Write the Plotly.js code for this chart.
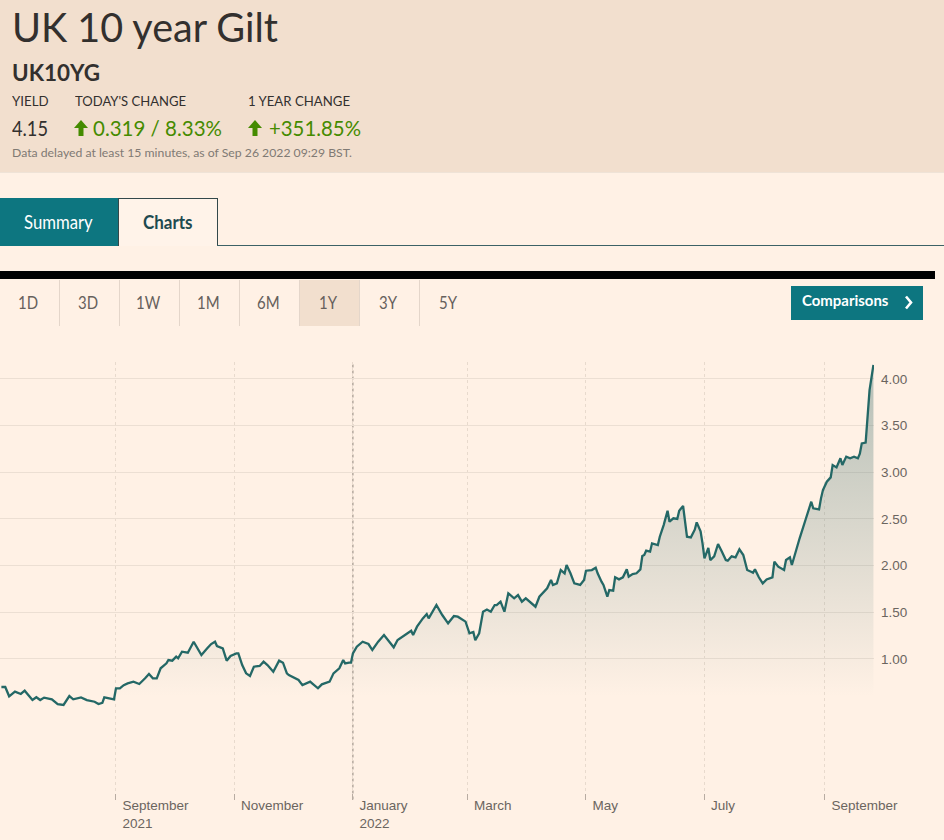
<!DOCTYPE html>
<html><head><meta charset="utf-8">
<script src="https://cdn.plot.ly/plotly-3.0.1.min.js"></script>
<style>
html,body{margin:0;padding:0;background:#fff1e5;width:944px;height:840px;overflow:hidden;font-family:Lato,"Open Sans",sans-serif;color:#33302e;}
.t{position:absolute;white-space:nowrap;line-height:1;transform-origin:0 0;}
#hdr{position:absolute;left:0;top:0;width:944px;height:172px;background:#f2dfce;border-bottom:1px solid #efe3d7;}
#tabSum{position:absolute;left:0;top:198px;width:118px;height:48px;background:#0d7680;}
#tabCh{position:absolute;left:118px;top:198px;width:98px;height:47px;border:1px solid #33484a;border-bottom:none;background:#fff3e9;}
#tabLine{position:absolute;left:217px;top:245px;width:727px;height:1px;background:#3c6266;}
#bar{position:absolute;left:0;top:271px;width:935px;height:8px;background:#000;}
.rb{position:absolute;top:280px;width:59px;height:46px;border-right:1px solid #e4d6ca;}
.rb.sel{background:#f2dfce;}
#cmp{position:absolute;left:791px;top:286px;width:132px;height:34px;background:#0d7680;}
#chart{position:absolute;left:0;top:330px;width:944px;height:510px;}
</style></head><body>
<div id="hdr"></div>
<div id="tabSum"></div><div id="tabCh"></div><div id="tabLine"></div>
<div id="bar"></div>
<div id="rbs"></div>
<div id="cmp"></div>
<svg style="position:absolute;left:74px;top:120px" width="14" height="16" viewBox="0 0 14 16"><polygon points="7,0 14,8 9.5,8 9.5,16 4.5,16 4.5,8 0,8" fill="#458b00"/></svg>
<svg style="position:absolute;left:248px;top:120px" width="14" height="16" viewBox="0 0 14 16"><polygon points="7,0 14,8 9.5,8 9.5,16 4.5,16 4.5,8 0,8" fill="#458b00"/></svg>
<svg style="position:absolute;left:904px;top:295px" width="9" height="15" viewBox="0 0 9 15"><polyline points="2,1.5 7,7.5 2,13.5" fill="none" stroke="#fff" stroke-width="2.6"/></svg>
<div id="chart"></div>
<script>
// ---- data ----
const title = "UK 10 year Gilt";
const symbol = "UK10YG";
const statLabels = ["YIELD", "TODAY'S CHANGE", "1 YEAR CHANGE"];
const statValues = ["4.15", "0.319 / 8.33%", "+351.85%"];
const note = "Data delayed at least 15 minutes, as of Sep 26 2022 09:29 BST.";
const tabs = ["Summary", "Charts"];
const ranges = ["1D", "3D", "1W", "1M", "6M", "1Y", "3Y", "5Y"];
const selectedRange = "1Y";
const buttonLabel = "Comparisons";

const dates = [
"2021-07-04","2021-07-06","2021-07-08","2021-07-11","2021-07-14","2021-07-16","2021-07-20","2021-07-22","2021-07-24","2021-07-26","2021-07-30",
"2021-08-02","2021-08-05","2021-08-08","2021-08-10","2021-08-14","2021-08-17","2021-08-21","2021-08-23","2021-08-25","2021-08-26","2021-08-29","2021-08-31",
"2021-09-01","2021-09-03","2021-09-05","2021-09-07","2021-09-10","2021-09-13","2021-09-16","2021-09-18","2021-09-20","2021-09-22","2021-09-24","2021-09-27","2021-09-28","2021-09-30",
"2021-10-02","2021-10-03","2021-10-05","2021-10-08","2021-10-11","2021-10-13","2021-10-15","2021-10-18","2021-10-20","2021-10-22","2021-10-23","2021-10-26","2021-10-28","2021-10-30",
"2021-11-02","2021-11-03","2021-11-05","2021-11-07","2021-11-09","2021-11-11","2021-11-14","2021-11-16","2021-11-18","2021-11-21","2021-11-24","2021-11-26","2021-11-28","2021-11-29",
"2021-12-01","2021-12-04","2021-12-06","2021-12-10","2021-12-11","2021-12-14","2021-12-16","2021-12-20","2021-12-22","2021-12-25","2021-12-27","2021-12-28","2021-12-30","2021-12-31",
"2022-01-01","2022-01-03","2022-01-06","2022-01-09","2022-01-11","2022-01-14","2022-01-17","2022-01-19","2022-01-22","2022-01-24","2022-01-28","2022-01-31",
"2022-02-01","2022-02-03","2022-02-06","2022-02-08","2022-02-09","2022-02-13","2022-02-16","2022-02-19","2022-02-22","2022-02-24","2022-02-28",
"2022-03-02","2022-03-04","2022-03-05","2022-03-07","2022-03-09","2022-03-11","2022-03-13","2022-03-15","2022-03-16","2022-03-18","2022-03-20","2022-03-22","2022-03-25","2022-03-27","2022-03-29","2022-03-31",
"2022-04-03","2022-04-05","2022-04-07","2022-04-10","2022-04-11","2022-04-13","2022-04-14","2022-04-16","2022-04-17","2022-04-18","2022-04-20","2022-04-21","2022-04-23","2022-04-25","2022-04-28","2022-04-30",
"2022-05-01","2022-05-04","2022-05-06","2022-05-07","2022-05-09","2022-05-10","2022-05-12","2022-05-13","2022-05-15","2022-05-16","2022-05-18","2022-05-20","2022-05-22","2022-05-23","2022-05-25","2022-05-27","2022-05-29","2022-05-30","2022-05-31",
"2022-06-01","2022-06-03","2022-06-04","2022-06-07","2022-06-08","2022-06-10","2022-06-12","2022-06-13","2022-06-15","2022-06-17","2022-06-18","2022-06-20","2022-06-21","2022-06-22","2022-06-24","2022-06-26","2022-06-27","2022-06-29","2022-06-30",
"2022-07-01","2022-07-03","2022-07-04","2022-07-06","2022-07-08","2022-07-10","2022-07-12","2022-07-13","2022-07-15","2022-07-17","2022-07-19","2022-07-21","2022-07-23","2022-07-25","2022-07-26","2022-07-27","2022-07-29","2022-07-31",
"2022-08-02","2022-08-05","2022-08-06","2022-08-08","2022-08-11","2022-08-12","2022-08-14","2022-08-15","2022-08-18","2022-08-19","2022-08-22","2022-08-25","2022-08-26","2022-08-29","2022-08-30","2022-08-31",
"2022-09-02","2022-09-04","2022-09-05","2022-09-07","2022-09-09","2022-09-10","2022-09-12","2022-09-14","2022-09-16","2022-09-18","2022-09-19","2022-09-20","2022-09-22","2022-09-24","2022-09-26"
];
const yields = [
0.70,0.70,0.60,0.65,0.625,0.66,0.56,0.59,0.56,0.586,0.568,
0.517,0.507,0.603,0.568,0.589,0.56,0.542,0.517,0.53,0.589,0.575,0.568,
0.686,0.686,0.72,0.739,0.757,0.732,0.793,0.839,0.793,0.793,0.90,0.953,0.989,0.982,
1.025,1.007,1.078,1.067,1.185,1.114,1.043,1.114,1.16,1.185,1.139,1.114,0.982,1.032,
1.06,1.06,0.935,0.846,0.817,0.917,0.925,0.971,0.935,0.864,0.982,0.96,0.846,0.828,
0.803,0.775,0.72,0.757,0.739,0.686,0.728,0.757,0.846,0.90,0.989,0.953,0.96,0.96,
1.06,1.132,1.185,1.16,1.096,1.185,1.257,1.203,1.125,1.203,1.257,1.303,
1.257,1.346,1.435,1.482,1.435,1.578,1.471,1.382,1.46,1.453,1.40,
1.275,1.29,1.20,1.275,1.507,1.53,1.507,1.578,1.578,1.614,1.507,1.703,1.65,1.685,1.614,1.65,
1.596,1.56,1.667,1.739,1.757,1.846,1.793,1.81,1.875,1.953,1.918,2.007,1.918,1.81,1.793,1.846,
1.946,1.953,1.978,1.918,1.828,1.793,1.667,1.739,1.732,1.875,1.853,1.875,1.96,1.882,1.91,1.918,1.96,2.103,2.114,
2.16,2.15,2.239,2.221,2.31,2.435,2.589,2.471,2.507,2.50,2.589,2.639,2.489,2.31,2.303,2.385,2.464,2.367,2.239,
2.078,2.189,2.06,2.10,2.232,2.15,2.06,2.053,2.10,2.089,2.175,2.114,1.953,1.935,1.925,1.96,1.875,1.81,
1.853,1.875,2.043,1.989,1.953,2.06,2.089,2.007,2.239,2.293,2.489,2.685,2.614,2.603,2.721,2.81,
2.90,2.946,3.078,3.053,3.15,3.078,3.168,3.15,3.168,3.15,3.20,3.31,3.318,3.88,4.15
];
const xTickDates = ["2021-09-01","2021-11-01","2022-01-01","2022-03-01","2022-05-01","2022-07-01","2022-09-01"];
const xTickLabels = ["September<br>2021","November","January<br>2022","March","May","July","September"];
const yTickValues = [1.0, 1.5, 2.0, 2.5, 3.0, 3.5, 4.0];
const yTickLabels = ["1.00","1.50","2.00","2.50","3.00","3.50","4.00"];
const yearBoundary = "2022-01-01";

// ---- header text ----
function txt(s, left, capTop, size, weight, color, targetW, center) {
  const d = document.createElement('div');
  d.className = 't';
  d.textContent = s;
  d.style.fontSize = size + 'px';
  d.style.fontWeight = weight;
  d.style.color = color;
  d.style.top = (capTop - 0.17 * size) + 'px';
  document.body.appendChild(d);
  const w = d.getBoundingClientRect().width;
  const sc = targetW ? targetW / w : 1;
  if (center !== undefined) {
    d.style.left = (center - w * sc / 2) + 'px';
  } else {
    d.style.left = left + 'px';
  }
  d.style.transform = 'scaleX(' + sc + ')';
  return d;
}
txt(title, 12, 13.3, 40, 400, '#33302e', 266);
txt(symbol, 12, 65.7, 22, 700, '#33302e', 88);
txt(statLabels[0], 12, 97.7, 13.5, 400, '#33302e', 36.6);
txt(statLabels[1], 75, 97.7, 13.5, 400, '#33302e', 111);
txt(statLabels[2], 248, 97.7, 13.5, 400, '#33302e', 102);
txt(statValues[0], 12, 120.7, 21, 400, '#33302e', 36);
txt(statValues[1], 93, 120.7, 21, 400, '#458b00', 129);
txt(statValues[2], 269, 120.7, 21, 400, '#458b00', 92);
txt(note, 12, 149, 12, 400, '#807a74', 340);
txt(tabs[0], 24, 216, 18.5, 400, '#ffffff', 68.7);
txt(tabs[1], 142.7, 216, 18.5, 700, '#1e4a50', 49.6);
ranges.forEach((r, i) => {
  if (i < 7) {
    const b = document.createElement('div');
    b.className = 'rb' + (r === selectedRange ? ' sel' : '');
    b.style.left = (i * 60) + 'px';
    document.body.appendChild(b);
  }
  txt(r, 0, 296.7, 17, 400, '#66605c', null, 29.5 + i * 60).style.transform += ' scaleX(0.88)';
});
txt(buttonLabel, 802.3, 296, 15, 700, '#ffffff', 86.4);

// ---- chart ----
const trace = {
  x: dates, y: yields, type: 'scatter', mode: 'lines',
  line: {color: '#246866', width: 2.3},
  fill: 'tozeroy',
  fillgradient: {type: 'vertical', start: 0.6, stop: 4.15,
    colorscale: [[0, 'rgba(70,115,112,0)'], [1, 'rgba(70,115,112,0.4)']]},
  hoverinfo: 'skip'
};
const tickFont = {family: '"Liberation Sans", Arial, sans-serif', size: 13.5, color: '#6b655f'};
const layout = {
  width: 944, height: 510,
  margin: {l: 0, r: 70, t: 32, b: 47},
  paper_bgcolor: 'rgba(0,0,0,0)', plot_bgcolor: 'rgba(0,0,0,0)',
  showlegend: false,
  xaxis: {type: 'date', range: ['2021-07-03 07:00', '2022-09-26 07:00'],
    tickmode: 'array', tickvals: xTickDates, ticktext: xTickLabels,
    ticks: 'outside', ticklen: 6, tickcolor: '#b8aca2', tickwidth: 1,
    ticklabelposition: 'outside right', ticklabelshift: 6,
    showgrid: true, gridcolor: '#e8dacd', griddash: 'dot', gridwidth: 1,
    zeroline: false, showline: false, tickfont: tickFont, fixedrange: true},
  yaxis: {side: 'right', range: [-0.436, 4.182],
    tickmode: 'array', tickvals: yTickValues, ticktext: yTickLabels,
    ticks: '', ticklabelstandoff: 6,
    showgrid: true, gridcolor: '#ecdfd3', gridwidth: 1,
    zeroline: false, showline: false, tickfont: tickFont, fixedrange: true},
  shapes: [{type: 'line', xref: 'x', yref: 'paper', x0: yearBoundary, x1: yearBoundary, y0: -0.015, y1: 1,
    line: {color: '#8f847b', width: 1, dash: 'dot'}, layer: 'below'}]
};
Plotly.newPlot('chart', [trace], layout, {staticPlot: true, displayModeBar: false});
</script>
</body></html>
